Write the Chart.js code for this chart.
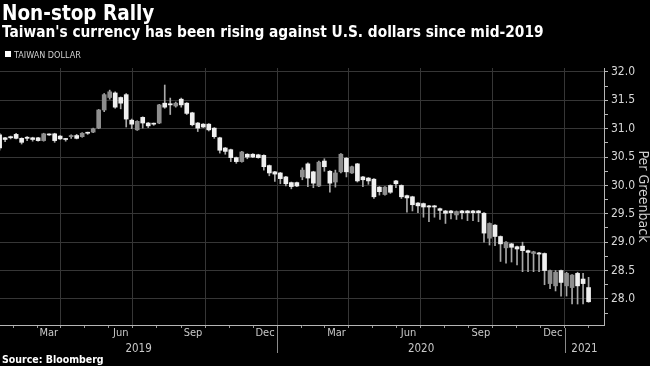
<!DOCTYPE html>
<html><head><meta charset="utf-8">
<script src="https://cdn.jsdelivr.net/npm/chart.js@4"></script>
<style>
html,body{margin:0;padding:0;background:#000;}
#wrap{position:relative;width:650px;height:366px;overflow:hidden;background:#000;}
#c{position:absolute;left:0;top:0;}
.t{position:absolute;left:2px;white-space:nowrap;font-family:"DejaVu Sans Condensed","DejaVu Sans",sans-serif;font-stretch:condensed;line-height:1;}
#title{top:3px;font-size:20.5px;font-weight:bold;color:#fff;}
#sub{top:25px;font-size:15.3px;font-weight:bold;color:#fff;}
#legend{top:51px;left:5px;font-size:9px;color:#cfcfcf;}
#legend i{display:inline-block;width:6px;height:6px;background:#fff;margin-right:3px;position:relative;top:-1px;}
#source{top:354px;font-size:10.5px;font-weight:bold;color:#fff;}
</style></head>
<body><div id="wrap">
<canvas id="c" width="650" height="366"></canvas>
<div class="t" id="title">Non-stop Rally</div>
<div class="t" id="sub">Taiwan's currency has been rising against U.S. dollars since mid-2019</div>
<div class="t" id="legend"><i></i>TAIWAN DOLLAR</div>
<div class="t" id="source">Source: Bloomberg</div>
</div>
<script>
// Weekly candles (USD/TWD), first week starting 2019-01-13
const firstWeek = '2019-01-13';
const openV = [30.89,30.84,30.86,30.90,30.83,30.85,30.84,30.84,30.79,30.90,
30.91,30.87,30.82,30.86,30.88,30.86,30.93,30.94,31.01,31.33,
31.55,31.63,31.55,31.60,31.15,30.98,31.20,31.10,31.09,31.10,
31.45,31.44,31.40,31.52,31.45,31.28,31.10,31.08,31.08,31.01,
30.84,30.66,30.63,30.49,30.42,30.55,30.55,30.54,30.53,30.35,
30.24,30.22,30.15,30.05,30.05,30.15,30.38,30.24,29.99,30.43,
30.25,30.06,30.24,30.48,30.22,30.38,30.15,30.13,30.11,29.97,
29.84,30.00,30.08,30.00,29.82,29.80,29.69,29.68,29.64,29.64,
29.59,29.55,29.55,29.48,29.55,29.55,29.55,29.55,29.51,29.07,
29.30,29.10,28.90,28.97,28.92,28.93,28.85,28.80,28.81,28.80,
28.27,28.23,28.50,28.23,28.20,28.45,28.35,28.20];
const closeV = [30.66,30.81,30.84,30.83,30.76,30.83,30.81,30.79,30.91,30.89,
30.79,30.82,30.81,30.88,30.83,30.92,30.92,31.00,31.33,31.60,
31.65,31.38,31.45,31.17,31.08,31.13,31.10,31.05,31.08,31.42,
31.38,31.42,31.45,31.42,31.27,31.07,31.01,31.03,30.98,30.86,
30.62,30.60,30.49,30.42,30.59,30.50,30.50,30.49,30.33,30.22,
30.20,30.12,30.03,29.98,29.99,30.27,30.13,30.04,30.41,30.33,
30.04,30.22,30.55,30.24,30.33,30.08,30.10,30.08,29.80,29.89,
29.97,29.88,30.03,29.80,29.78,29.66,29.64,29.62,29.62,29.62,
29.56,29.51,29.52,29.54,29.52,29.52,29.52,29.52,29.16,29.33,
29.10,28.97,29.00,28.91,28.88,28.85,28.82,28.83,28.79,28.50,
28.50,28.47,28.29,28.45,28.42,28.23,28.27,27.95];
const highV = [30.92,30.85,30.87,30.92,30.84,30.86,30.85,30.85,30.92,30.91,
30.92,30.88,30.83,30.89,30.90,30.93,30.94,31.01,31.34,31.62,
31.68,31.65,31.56,31.62,31.17,31.14,31.21,31.11,31.10,31.43,
31.77,31.54,31.47,31.54,31.46,31.29,31.11,31.09,31.09,31.02,
30.85,30.67,30.64,30.50,30.60,30.56,30.56,30.55,30.54,30.36,
30.25,30.23,30.16,30.06,30.06,30.31,30.40,30.25,30.43,30.47,
30.26,30.27,30.56,30.49,30.34,30.39,30.16,30.14,30.12,29.98,
29.98,30.01,30.09,30.01,29.83,29.81,29.70,29.69,29.65,29.65,
29.60,29.56,29.56,29.55,29.56,29.56,29.56,29.56,29.52,29.34,
29.31,29.11,29.01,28.98,28.93,29.00,28.86,28.84,28.82,28.81,
28.51,28.50,28.51,28.47,28.43,28.47,28.45,28.38];
const lowV = [30.62,30.77,30.82,30.82,30.73,30.79,30.78,30.78,30.78,30.88,
30.76,30.81,30.78,30.83,30.82,30.85,30.90,30.93,31.00,31.30,
31.52,31.36,31.35,31.03,31.00,30.97,31.01,31.02,31.06,31.09,
31.36,31.25,31.38,31.38,31.25,31.05,30.95,31.02,30.96,30.83,
30.57,30.55,30.42,30.39,30.41,30.47,30.49,30.48,30.27,30.17,
30.07,30.03,29.99,29.94,29.98,30.10,29.98,29.96,29.98,30.25,
29.88,29.97,30.22,30.15,30.21,30.06,29.98,30.02,29.77,29.83,
29.83,29.86,29.96,29.77,29.53,29.55,29.52,29.44,29.36,29.44,
29.40,29.33,29.41,29.40,29.41,29.38,29.38,29.36,29.00,28.95,
28.94,28.66,28.63,28.65,28.60,28.48,28.48,28.48,28.48,28.25,
28.18,28.14,28.05,28.05,27.91,27.91,27.91,27.94];

const monthNames = ['Jan','Feb','Mar','Apr','May','Jun','Jul','Aug','Sep','Oct','Nov','Dec'];
const labelledMonths = ['Mar','Jun','Sep','Dec'];
const quarterStarts = ['Jan','Apr','Jul','Oct'];
const yearLabels = ['2019','2020','2021'];
const yTickValues = [27.75,28.0,28.25,28.5,28.75,29.0,29.25,29.5,29.75,30.0,30.25,30.5,30.75,31.0,31.25,31.5,31.75,32.0];
const yMin = 27.54, yMax = 32.07;

// axis helpers (days since 2019-01-01)
const BASE = Date.UTC(2019,0,1);
const dayOf = (y,m,d) => (Date.UTC(y,m,d) - BASE) / 864e5;
const xMin = 12.5, xMax = 780.6;

const fw = firstWeek.split('-').map(Number);
const week0 = dayOf(fw[0], fw[1]-1, fw[2]);
const bodies = [], wicks = [];
for (let i = 0; i < openV.length; i++) {
  const x = week0 + 7*i;
  bodies.push({x, y:[openV[i], closeV[i]], up: closeV[i] >= openV[i]});
  wicks.push({x, y:[lowV[i], highV[i]]});
}

// month ticks at mid-month (labels), grid lines fall between them = month boundaries
const monthTicks = [];
for (let y = 2019; y <= 2021; y++) {
  for (let m = 0; m < 12; m++) {
    const s = dayOf(y,m,1), e = dayOf(y,m+1,1);
    const mid = (s+e)/2;
    if (mid < xMin || mid > xMax) continue;
    const name = monthNames[m];
    monthTicks.push({value: mid, label: labelledMonths.includes(name) ? name : '', q: quarterStarts.includes(name)});
  }
}
const yearTicks = yearLabels.map(l => {
  const y = +l;
  const s = Math.max(dayOf(y,0,1), xMin), e = Math.min(dayOf(y+1,0,1), xMax);
  return {value: (s+e)/2, label: l};
});
const yearBounds = [dayOf(2020,0,1), dayOf(2021,0,1)];

const FAM = '"DejaVu Sans Condensed", "DejaVu Sans", sans-serif';
const GRID = '#363636';
const TXT = '#c8c8c8';
const isMajor = v => Math.abs(v*2 - Math.round(v*2)) < 1e-6;

const yearSep = {
  id: 'yearSep',
  afterDraw(chart) {
    const xs = chart.scales.x, ca = chart.chartArea, c = chart.ctx;
    c.save();
    c.strokeStyle = '#8a8a8a'; c.lineWidth = 1;
    yearBounds.forEach(d => {
      const px = Math.round(xs.getPixelForValue(d)) + 0.5;
      c.beginPath(); c.moveTo(px, ca.bottom + 3); c.lineTo(px, ca.bottom + 28); c.stroke();
    });
    c.restore();
  }
};

new Chart(document.getElementById('c'), {
  type: 'bar',
  data: {
    datasets: [
      {label:'body', data: bodies, grouped:false, barThickness:4, borderWidth:0, minBarLength:1,
       backgroundColor: ctx => (ctx.raw && ctx.raw.up) ? '#8e8e8e' : '#f0f0f0', order:0},
      {label:'wick', data: wicks, grouped:false, barThickness:1, borderWidth:0,
       backgroundColor:'#a8a8a8', order:1}
    ]
  },
  options: {
    responsive:false, animation:false,
    layout:{padding:{top:68, bottom:13, left:0, right:0}},
    plugins:{legend:{display:false}, tooltip:{enabled:false}},
    scales:{
      x:{type:'linear', position:'bottom', min:xMin, max:xMax, bounds:'data', offset:false,
        afterBuildTicks: s => { s.ticks = monthTicks.map(m => ({value:m.value})); },
        ticks:{autoSkip:false, maxRotation:0, minRotation:0, color:TXT, padding:0,
          font:{family:FAM, size:11, lineHeight:1},
          callback:(v,i) => monthTicks[i] ? monthTicks[i].label : ''},
        grid:{offset:true, drawOnChartArea:true, drawTicks:true, tickLength:3,
          color: ctx => (ctx.index !== undefined && monthTicks[ctx.index] && monthTicks[ctx.index].q && ctx.type==='tick') ? GRID : 'rgba(0,0,0,0)',
          tickColor:'#9a9a9a'},
        border:{display:true, color:'#b5b5b5', width:1},
        afterFit: s => { s.height = 15; }
      },
      xy:{type:'linear', position:'bottom', min:xMin, max:xMax, bounds:'data', offset:false,
        afterBuildTicks: s => { s.ticks = yearTicks.map(t => ({value:t.value})); },
        ticks:{autoSkip:false, maxRotation:0, minRotation:0, color:TXT, padding:3,
          font:{family:FAM, size:11.5, lineHeight:1},
          callback:(v,i) => yearTicks[i] ? yearTicks[i].label : ''},
        grid:{display:false, drawTicks:false},
        border:{display:false},
        afterFit: s => { s.height = 13; }
      },
      y:{type:'linear', position:'right', min:yMin, max:yMax, bounds:'data',
        afterBuildTicks: s => { s.ticks = yTickValues.map(v => ({value:v})); },
        ticks:{autoSkip:false, color:'#d8d8d8', padding:3,
          font:{family:FAM, size:12, lineHeight:1},
          callback: v => isMajor(v) ? v.toFixed(1) : ''},
        grid:{drawTicks:true, tickLength:4,
          color: ctx => (ctx.tick && isMajor(ctx.tick.value)) ? GRID : 'rgba(0,0,0,0)',
          tickColor:'#b5b5b5'},
        border:{display:true, color:'#b5b5b5', width:1},
        title:{display:true, text:'Per Greenback', color:'#d0d0d0', padding:{top:0,bottom:0},
          font:{family:FAM, size:14, lineHeight:1}},
        afterFit: s => { s.width = 46; }
      }
    }
  },
  plugins:[yearSep]
});
</script>
</body></html>
